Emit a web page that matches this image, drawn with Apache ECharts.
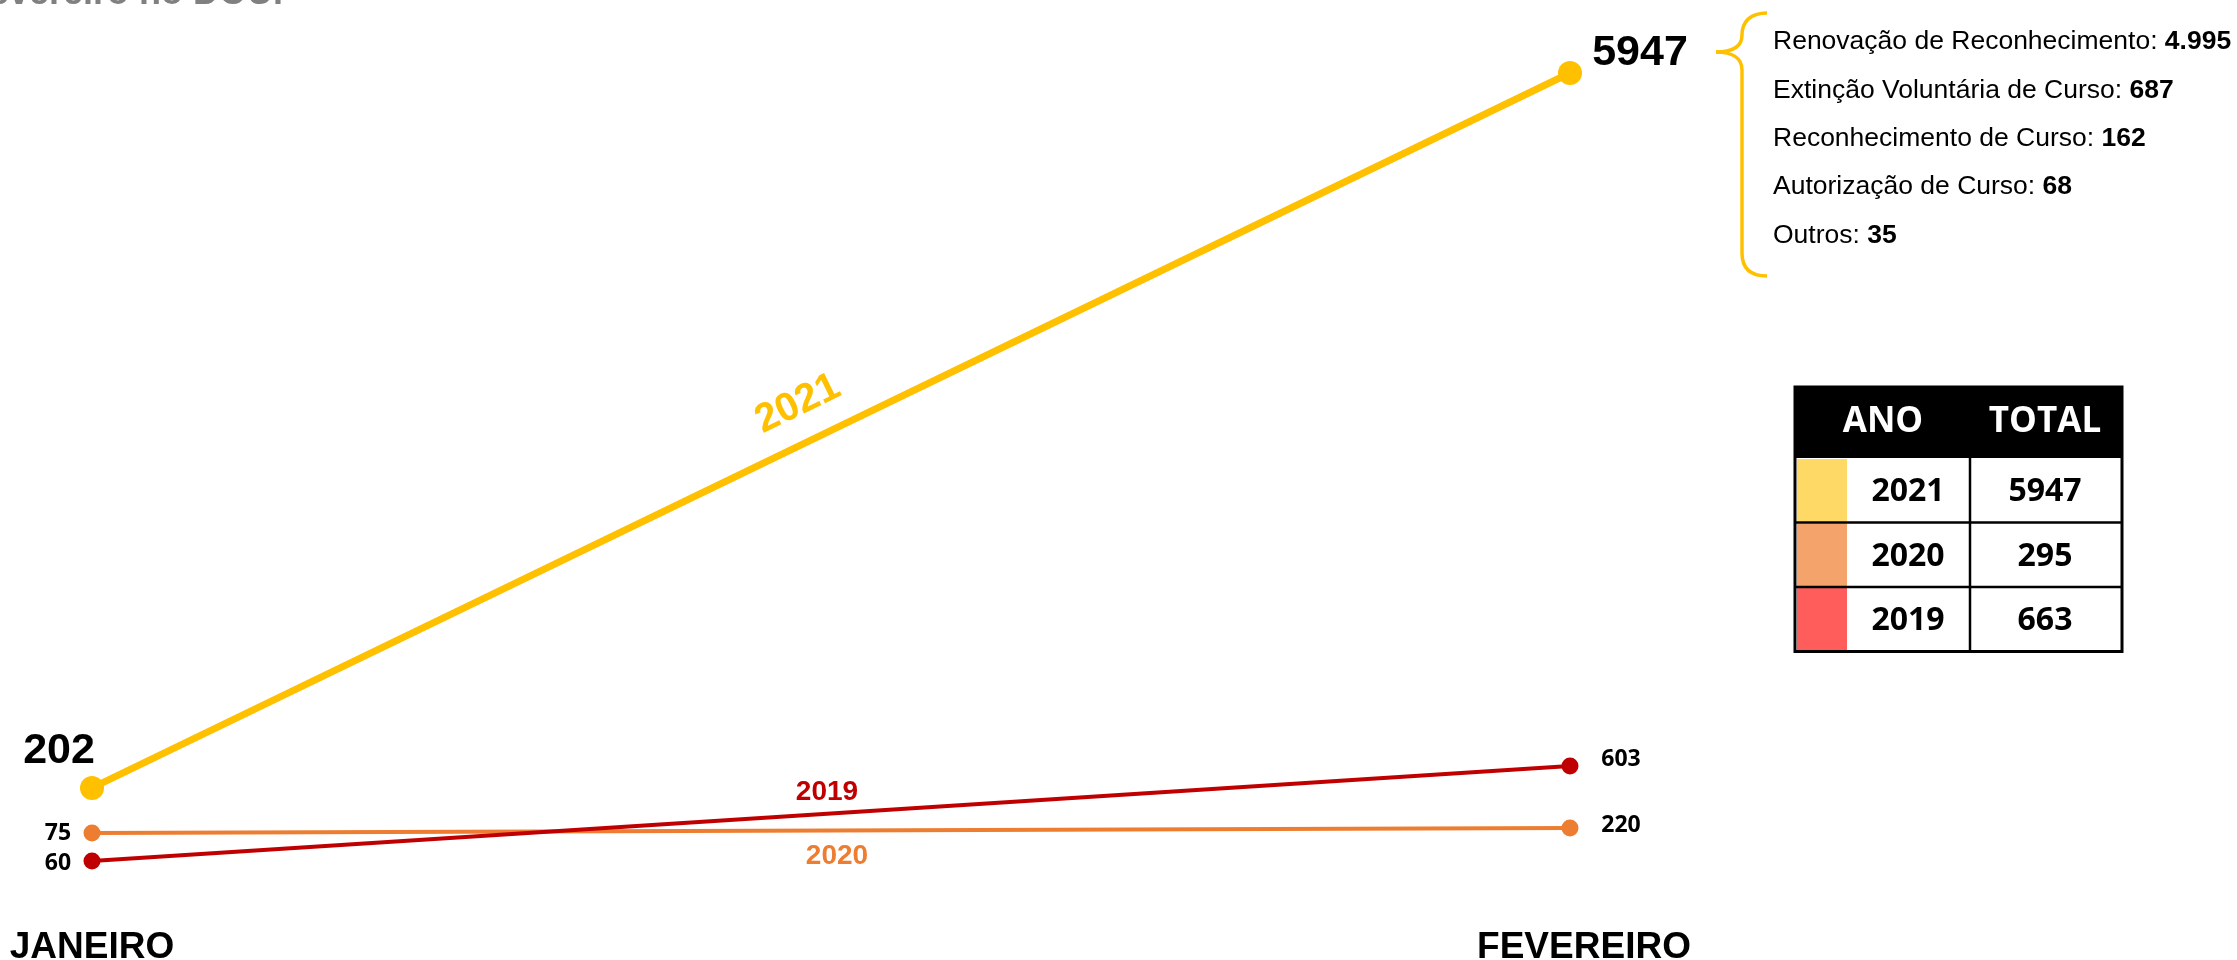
<!DOCTYPE html>
<html>
<head>
<meta charset="utf-8">
<title>Processos no DOU</title>
<script src="https://cdn.jsdelivr.net/npm/echarts@6/dist/echarts.min.js"></script>
<style>
  html, body { margin: 0; padding: 0; background: #fff; }
  #chart { width: 2237px; height: 960px; }
</style>
</head>
<body>
<div id="chart"></div>
<script>
// dados
const months = ['JANEIRO', 'FEVEREIRO']
const values2021 = [202, 5947]
const values2020 = [75, 220]
const values2019 = [60, 603]

const tableYears = ['2021', '2020', '2019']
const tableTotals = [5947, 295, 663]

const breakdownLabels = [
  'Renovação de Reconhecimento',
  'Extinção Voluntária de Curso',
  'Reconhecimento de Curso',
  'Autorização de Curso',
  'Outros'
]
const breakdownValues = ['4.995', '687', '162', '68', '35']

const ARIAL = "'Liberation Sans', Arial, sans-serif"
const CALIBRI = "'Open Sans', 'Noto Sans', sans-serif"

// rótulos de cada ponto (offset relativo ao símbolo)
function withLabels(values, offsets, style) {
  return values.map((v, i) => ({
    value: v,
    label: Object.assign({
      show: true,
      position: 'inside',
      offset: offsets[i],
      formatter: '{c}',
      color: '#000',
      textBorderWidth: 0,
      fontWeight: 'bold'
    }, style)
  }))
}

// tabela ANO / TOTAL
const swatchColors = ['#FFD966', '#F4A46A', '#FF5C5C']
const tbl = { x: 1795, y: 387, w: 327, headH: 71, rowH: 64.5, split: 1970 }
const tableGraphics = []
tableGraphics.push({
  type: 'rect', shape: { x: tbl.x, y: tbl.y, width: tbl.w, height: tbl.headH }, style: { fill: '#000' }
})
tableGraphics.push({
  type: 'text', style: { text: 'ANO', x: 1883, y: tbl.y + tbl.headH / 2, align: 'center', verticalAlign: 'middle', fill: '#fff', font: 'bold 35px ' + CALIBRI }
})
tableGraphics.push({
  type: 'text', style: { text: 'TOTAL', x: 2045, y: tbl.y + tbl.headH / 2, align: 'center', verticalAlign: 'middle', fill: '#fff', font: 'bold 35px ' + CALIBRI }
})
tableYears.forEach((yr, i) => {
  const top = tbl.y + tbl.headH + i * tbl.rowH
  tableGraphics.push({
    type: 'rect', shape: { x: tbl.x + 2, y: top + 1, width: 50, height: tbl.rowH - 2 }, style: { fill: swatchColors[i] }
  })
  tableGraphics.push({
    type: 'text', style: { text: yr, x: 1908, y: top + tbl.rowH / 2 + 2, align: 'center', verticalAlign: 'middle', fill: '#000', font: 'bold 32px ' + CALIBRI }
  })
  tableGraphics.push({
    type: 'text', style: { text: String(tableTotals[i]), x: 2045, y: top + tbl.rowH / 2 + 2, align: 'center', verticalAlign: 'middle', fill: '#000', font: 'bold 32px ' + CALIBRI }
  })
  if (i > 0) {
    tableGraphics.push({
      type: 'line', shape: { x1: tbl.x, y1: top, x2: tbl.x + tbl.w, y2: top }, style: { stroke: '#000', lineWidth: 2.5 }
    })
  }
})
const tblBottom = tbl.y + tbl.headH + tableYears.length * tbl.rowH
tableGraphics.push({
  type: 'line', shape: { x1: tbl.split, y1: tbl.y + tbl.headH, x2: tbl.split, y2: tblBottom }, style: { stroke: '#000', lineWidth: 2.5 }
})
tableGraphics.push({
  type: 'rect', shape: { x: tbl.x, y: tbl.y, width: tbl.w, height: tblBottom - tbl.y }, style: { fill: 'none', stroke: '#000', lineWidth: 3 }
})

// chave + detalhamento de 2021
const brace = { stroke: '#FFC000', lineWidth: 3.5, fill: 'none' }
const braceGraphics = [
  { type: 'bezierCurve', shape: { x1: 1767, y1: 13, cpx1: 1750, cpy1: 13, cpx2: 1742, cpy2: 22, x2: 1742, y2: 35 }, style: brace },
  { type: 'bezierCurve', shape: { x1: 1742, y1: 35, cpx1: 1742, cpy1: 47, cpx2: 1732, cpy2: 52, x2: 1716, y2: 52 }, style: brace },
  { type: 'bezierCurve', shape: { x1: 1716, y1: 52, cpx1: 1732, cpy1: 52, cpx2: 1742, cpy2: 58, x2: 1742, y2: 70 }, style: brace },
  { type: 'line', shape: { x1: 1742, y1: 70, x2: 1742, y2: 253 }, style: brace },
  { type: 'bezierCurve', shape: { x1: 1742, y1: 253, cpx1: 1742, cpy1: 268, cpx2: 1750, cpy2: 276, x2: 1767, y2: 276 }, style: brace }
]
const breakdownGraphics = breakdownLabels.map((lbl, i) => ({
  type: 'text',
  style: {
    text: lbl + ': {b|' + breakdownValues[i] + '}',
    x: 1773,
    y: 42 + i * 48.3,
    verticalAlign: 'middle',
    fill: '#000',
    fontSize: 26.5,
    fontFamily: ARIAL,
    rich: { b: { fontSize: 26.5, fontFamily: ARIAL, fontWeight: 'bold', fill: '#000' } }
  }
}))

// nomes das séries ao longo das linhas
const seriesNameGraphics = [
  { type: 'text', x: 798, y: 404, rotation: 0.452, style: { text: '2021', x: 0, y: 0, align: 'center', verticalAlign: 'middle', fill: '#FFC000', font: 'bold 40px ' + ARIAL } },
  { type: 'text', style: { text: '2019', x: 827, y: 792, align: 'center', verticalAlign: 'middle', fill: '#C00000', font: 'bold 28px ' + ARIAL } },
  { type: 'text', style: { text: '2020', x: 837, y: 856, align: 'center', verticalAlign: 'middle', fill: '#ED7D31', font: 'bold 28px ' + ARIAL } }
]

const option = {
  animation: false,
  backgroundColor: '#fff',
  grid: { left: 92, right: 667, top: 73, bottom: 99, containLabel: false, outerBoundsMode: 'none' },
  xAxis: {
    type: 'category',
    data: months,
    boundaryGap: false,
    axisLine: { show: false },
    axisTick: { show: false },
    splitLine: { show: false },
    axisLabel: {
      margin: 68,
      color: '#000',
      fontSize: 37,
      fontWeight: 'bold',
      fontFamily: ARIAL,
      // FEVEREIRO fica um pouco à direita do ponto no original
      formatter: (v, i) => (i === 1 ? '{f|' + v + '}' : v),
      rich: { f: { fontSize: 37, fontWeight: 'bold', fontFamily: ARIAL, color: '#000', padding: [0, 0, 0, 28] } }
    }
  },
  // escalas independentes (o gráfico original não segue uma escala única)
  yAxis: [
    { type: 'value', show: false, min: -385, max: 5947, splitLine: { show: false } },
    { type: 'value', show: false, min: -737, max: 22115, splitLine: { show: false } },
    { type: 'value', show: false, min: 60, max: 4564, splitLine: { show: false } }
  ],
  series: [
    {
      name: '2020',
      type: 'line',
      yAxisIndex: 1,
      z: 2,
      symbol: 'circle',
      symbolSize: 17,
      itemStyle: { color: '#ED7D31' },
      lineStyle: { color: '#ED7D31', width: 4 },
      data: withLabels(values2020, [[-34, 0], [51, -3]], { fontSize: 23, fontFamily: CALIBRI })
    },
    {
      name: '2019',
      type: 'line',
      yAxisIndex: 2,
      z: 3,
      symbol: 'circle',
      symbolSize: 17,
      itemStyle: { color: '#C00000' },
      lineStyle: { color: '#C00000', width: 4 },
      data: withLabels(values2019, [[-34, 2], [51, -7]], { fontSize: 23, fontFamily: CALIBRI })
    },
    {
      name: '2021',
      type: 'line',
      yAxisIndex: 0,
      z: 4,
      symbol: 'circle',
      symbolSize: 24,
      itemStyle: { color: '#FFC000' },
      lineStyle: { color: '#FFC000', width: 7 },
      data: withLabels(values2021, [[-33, -37], [70, -20]], { fontSize: 43, fontFamily: ARIAL })
    }
  ],
  graphic: [
    { type: 'text', style: { text: 'fevereiro no DOU.', x: 283, y: 12, align: 'right', verticalAlign: 'bottom', fill: '#808080', font: 'bold 36px ' + ARIAL } }
  ].concat(braceGraphics, breakdownGraphics, tableGraphics, seriesNameGraphics)
}

const chart = echarts.init(document.getElementById('chart'))
chart.setOption(option)
window.addEventListener('resize', chart.resize)
</script>
</body>
</html>
